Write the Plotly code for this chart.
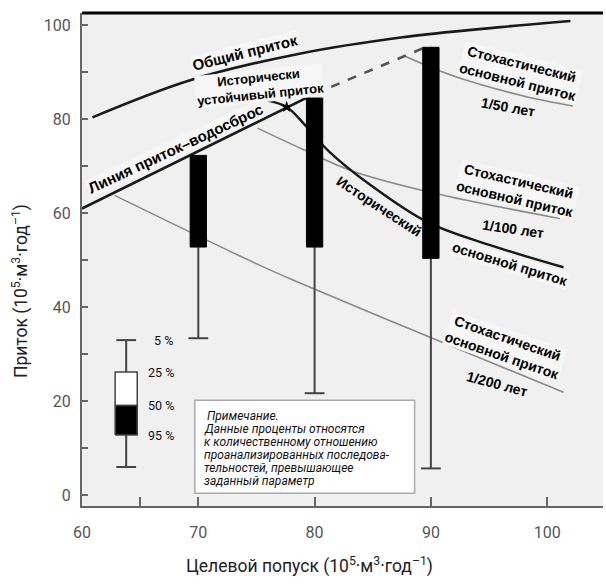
import plotly.graph_objects as go

# ---------------- data ----------------
total_x = [60.9, 69.3, 78.8, 87.4, 96.0, 102.0]
total_y = [80.4, 88.3, 94.0, 97.4, 99.6, 100.9]

io_x = [60.0, 80.0]
io_y = [61.0, 85.4]
io_dash_x = [80.0, 90.0]
io_dash_y = [85.4, 95.8]

hist_x = [75.9, 77.6, 79.2, 81.3, 84.8, 89.7, 95.1, 101.4]
hist_y = [84.0, 82.6, 78.7, 73.0, 66.0, 58.1, 53.2, 48.5]
hist_point = (77.6, 82.6)

st50_x = [87.6, 91.7, 97.7, 102.2]
st50_y = [93.6, 89.4, 85.1, 82.8]
st100_x = [75.1, 78.8, 83.1, 90.2, 101.1]
st100_y = [78.1, 73.8, 69.1, 64.3, 58.9]
st200_x = [62.8, 75.3, 78.8, 90.5, 101.4]
st200_y = [63.8, 48.9, 45.1, 33.0, 21.9]

box_x = [70, 80, 90]
box_top = [72.3, 84.5, 95.3]
box_bottom = [52.8, 52.8, 50.4]
box_low = [33.4, 21.7, 5.7]

# legend glyph (percentile key)
key_x = 63.8
key_p5, key_p25, key_p50, key_p95, key_low = 33.0, 26.2, 19.1, 12.8, 6.0
key_labels = ["5 %", "25 %", "50 %", "95 %"]

x_ticks = [60, 65, 70, 80, 90, 100]
x_ticktext = ["60", "", "70", "80", "90", "100"]
y_ticks = list(range(0, 101, 10))
y_ticktext = [str(v) if v % 20 == 0 else "" for v in y_ticks]

note_lines = ["&nbsp;Примечание.", "Данные проценты относятся", "к количественному отношению",
              "проанализированных последова-", "тельностей, превышающее", "заданный параметр"]
note_box = (69.7, 88.6, 0.4, 20.2)

FONT = "Roboto"
BFONT = "Liberation Sans"
fig = go.Figure()

def line(x, y, color, width, dash="solid", shape="spline"):
    fig.add_trace(go.Scatter(x=x, y=y, mode="lines", line=dict(color=color, width=width, dash=dash, shape=shape),
                             hoverinfo="skip", showlegend=False))

# stochastic (gray) lines
line(st50_x, st50_y, "#8a8a8a", 1.6)
line(st100_x, st100_y, "#8a8a8a", 1.6)
line(st200_x, st200_y, "#8a8a8a", 1.6)
# main lines
line(total_x, total_y, "#1a1a1a", 2.6)
line(io_x, io_y, "#1a1a1a", 2.6, shape="linear")
line(io_dash_x, io_dash_y, "#555555", 2.6, dash="dash", shape="linear")
line(hist_x, hist_y, "#1a1a1a", 2.4)
fig.add_trace(go.Scatter(x=[hist_point[0]], y=[hist_point[1]], mode="markers",
                         marker=dict(symbol="star", size=9, color="black"), showlegend=False, hoverinfo="skip"))

# whiskers
cap = 0.85
wx, wy = [], []
for x, b, lo in zip(box_x, box_bottom, box_low):
    wx += [x, x, None, x - cap, x + cap, None]
    wy += [b, lo, None, lo, lo, None]
fig.add_trace(go.Scatter(x=wx, y=wy, mode="lines", line=dict(color="#444444", width=2),
                         showlegend=False, hoverinfo="skip"))
# boxes
hw = 0.7
for x, t, b in zip(box_x, box_top, box_bottom):
    fig.add_trace(go.Scatter(x=[x - hw, x + hw, x + hw, x - hw, x - hw], y=[b, b, t, t, b], mode="lines",
                             fill="toself", fillcolor="black", line=dict(color="black", width=1),
                             showlegend=False, hoverinfo="skip"))

# key glyph
kx = [key_x, key_x, None, key_x - cap, key_x + cap, None, key_x, key_x, None, key_x - cap, key_x + cap]
ky = [key_p25, key_p5, None, key_p5, key_p5, None, key_p95, key_low, None, key_low, key_low]
fig.add_trace(go.Scatter(x=kx, y=ky, mode="lines", line=dict(color="#444444", width=2),
                         showlegend=False, hoverinfo="skip"))
khw = 0.95
fig.add_trace(go.Scatter(x=[key_x - khw, key_x + khw, key_x + khw, key_x - khw, key_x - khw],
                         y=[key_p50, key_p50, key_p25, key_p25, key_p50], mode="lines", fill="toself",
                         fillcolor="white", line=dict(color="#444444", width=1.5), showlegend=False, hoverinfo="skip"))
fig.add_trace(go.Scatter(x=[key_x - khw, key_x + khw, key_x + khw, key_x - khw, key_x - khw],
                         y=[key_p95, key_p95, key_p50, key_p50, key_p95], mode="lines", fill="toself",
                         fillcolor="black", line=dict(color="#444444", width=1.5), showlegend=False, hoverinfo="skip"))
for lab_, yv, xv in zip(key_labels, [key_p5, key_p25, key_p50, key_p95], [66.0, 65.5, 65.5, 65.5]):
    fig.add_annotation(x=xv, y=yv, text=lab_, showarrow=False, xanchor="left", yanchor="middle",
                       font=dict(family=FONT, size=12.5, color="#111"))

# note box
fig.add_shape(type="rect", xref="x", yref="y", x0=note_box[0], x1=note_box[1], y0=note_box[2], y1=note_box[3],
              fillcolor="white", line=dict(color="#aaaaaa", width=1.5), layer="above")
for i, t in enumerate(note_lines):
    fig.add_annotation(x=note_box[0] + 0.6, y=note_box[3] - 3.4 - i * 2.77, text="<i>" + t + "</i>",
                       showarrow=False, align="left", xanchor="left", yanchor="middle",
                       font=dict(family=FONT, size=12, color="#111"))

# curve labels
def lab(x, y, text, angle, size=14, bg=None):
    fig.add_annotation(x=x, y=y, text="<b>" + text + "</b>", showarrow=False, textangle=angle,
                       font=dict(family=BFONT, size=size, color="black"),
                       bgcolor=bg if bg else "rgba(0,0,0,0)", borderpad=0)

BG = "#f6f6f6"
lab(74.0, 94.2, "Общий приток", -14, 15, BG)
lab(75.3, 87.0, "Исторически<br>устойчивый приток", -6, 13, BG)
lab(68.0, 73.8, "Линия приток–водосброс", -25, 15, BG)
lab(97.7, 89.8, "Стохастический<br>основной приток", 14, 14, BG)
lab(96.6, 82.6, "1/50 лет", 10, 14)
lab(97.4, 64.9, "Стохастический<br>основной приток", 13, 14, BG)
lab(97.1, 56.6, "1/100 лет", 8, 14)
lab(85.5, 61.5, "Исторический", 33, 14)
lab(96.8, 49.1, "основной приток", 17, 14, BG)
lab(96.4, 31.5, "Стохастический<br>основной приток", 19, 14, BG)
lab(95.7, 23.6, "1/200 лет", 15, 14)

# axis titles
fig.add_annotation(xref="paper", yref="paper", x=-0.118, y=0.435, xanchor="center", yanchor="middle",
                   text="Приток (10<sup>5</sup>·м<sup>3</sup>·год<sup>–1</sup>)",
                   textangle=-90, showarrow=False, font=dict(family=FONT, size=17.5, color="#222"))
fig.add_annotation(xref="paper", yref="paper", x=0.437, y=-0.12, xanchor="center", yanchor="middle",
                   text="Целевой попуск (10<sup>5</sup>·м<sup>3</sup>·год<sup>–1</sup>)",
                   showarrow=False, font=dict(family=FONT, size=17.5, color="#222"))

# top frame line
fig.add_shape(type="line", xref="paper", yref="paper", x0=0, x1=1, y0=1, y1=1, line=dict(color="black", width=3))

fig.update_layout(
    width=606, height=588, margin=dict(l=82, r=3, t=13, b=82),
    paper_bgcolor="white", plot_bgcolor="#f0f0f0", showlegend=False,
    xaxis=dict(range=[60, 104.8], tickvals=x_ticks, ticktext=x_ticktext, ticks="inside", ticklen=9, tickwidth=2,
               tickcolor="#666", showline=True, linecolor="#666", linewidth=2, showgrid=False, zeroline=False,
               tickfont=dict(family=FONT, size=16, color="#555"), ticklabelstandoff=11),
    yaxis=dict(range=[-2.3, 102.6], tickvals=y_ticks, ticktext=y_ticktext, ticks="inside", ticklen=6, tickwidth=2,
               tickcolor="#666", showline=True, linecolor="#666", linewidth=2, showgrid=False, zeroline=False,
               tickfont=dict(family=FONT, size=16, color="#555"), ticklabelstandoff=6),
)
fig.write_html("out.html")
